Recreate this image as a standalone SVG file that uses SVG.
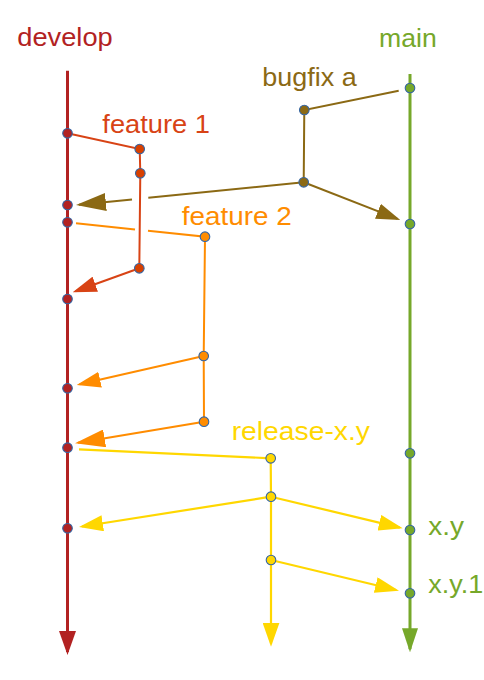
<svg xmlns="http://www.w3.org/2000/svg" width="484" height="680" viewBox="0 0 484 680">
<style>
text{font-family:"Liberation Sans",Arial,sans-serif;font-size:25.5px}
.dot{stroke:#3465a4;stroke-width:1.1}
line,polyline,path.c{fill:none}
.dev{stroke:#b22222;stroke-width:3}
.main{stroke:#76a82a;stroke-width:3}
.f1{stroke:#d84315;stroke-width:2}
.f2{stroke:#ff8c00;stroke-width:2}
.bf{stroke:#8b6914;stroke-width:2}
.rel{stroke:#ffd700;stroke-width:2.2}
</style>
<defs>
<marker id="aDev" markerUnits="userSpaceOnUse" orient="auto" markerWidth="24" markerHeight="17" refX="21" refY="8.5" viewBox="0 0 24 17"><path d="M0,0 L24,8.5 L0,17 z" fill="#b22222"/></marker>
<marker id="aMain" markerUnits="userSpaceOnUse" orient="auto" markerWidth="24" markerHeight="16" refX="21" refY="8" viewBox="0 0 24 16"><path d="M0,0 L24,8 L0,16 z" fill="#76a82a"/></marker>
<marker id="aF1" markerUnits="userSpaceOnUse" orient="auto" markerWidth="24" markerHeight="16" refX="21" refY="8" viewBox="0 0 24 16"><path d="M0,0 L24,8 L0,16 z" fill="#d84315"/></marker>
<marker id="aF2" markerUnits="userSpaceOnUse" orient="auto" markerWidth="24" markerHeight="16" refX="21" refY="8" viewBox="0 0 24 16"><path d="M0,0 L24,8 L0,16 z" fill="#ff8c00"/></marker>
<marker id="aF2b" markerUnits="userSpaceOnUse" orient="auto" markerWidth="30" markerHeight="18" refX="27" refY="9" viewBox="0 0 30 18"><path d="M0,0 L30,9 L0,18 z" fill="#ff8c00"/></marker>
<marker id="aBf" markerUnits="userSpaceOnUse" orient="auto" markerWidth="24" markerHeight="16" refX="21" refY="8" viewBox="0 0 24 16"><path d="M0,0 L24,8 L0,16 z" fill="#8b6914"/></marker>
<marker id="aBfb" markerUnits="userSpaceOnUse" orient="auto" markerWidth="30" markerHeight="18" refX="27" refY="9" viewBox="0 0 30 18"><path d="M0,0 L30,9 L0,18 z" fill="#8b6914"/></marker>
<marker id="aRel" markerUnits="userSpaceOnUse" orient="auto" markerWidth="24" markerHeight="16" refX="21" refY="8" viewBox="0 0 24 16"><path d="M0,0 L24,8 L0,16 z" fill="#ffd700"/></marker>
<marker id="aRelV" markerUnits="userSpaceOnUse" orient="auto" markerWidth="24" markerHeight="17" refX="21" refY="8.5" viewBox="0 0 24 17"><path d="M0,0 L24,8.5 L0,17 z" fill="#ffd700"/></marker>
</defs>

<g id="connectors">
<line class="dev" x1="67.5" y1="70.7" x2="67.5" y2="652" marker-end="url(#aDev)"/>
<line class="main" x1="410" y1="74" x2="410" y2="649.3" marker-end="url(#aMain)"/>
<polyline class="f1" points="67.5,133.3 139.7,149 140.3,173.3 139.3,268.3"/>
<line class="f1" x1="139.3" y1="268.3" x2="75.5" y2="291.3" marker-end="url(#aF1)"/>
<polyline class="bf" points="398.7,90.7 304.3,110 303.7,182.3"/>
<line class="bf" x1="303.7" y1="182.3" x2="148.3" y2="197.8"/>
<line class="bf" x1="132" y1="199.4" x2="79" y2="204.7" marker-end="url(#aBfb)"/>
<line class="bf" x1="303.7" y1="182.3" x2="397.5" y2="218.9" marker-end="url(#aBf)"/>
<line class="f2" x1="76" y1="223.3" x2="135" y2="229.4"/>
<polyline class="f2" points="148,230.8 205,236.7 203.7,356 204,421.7"/>
<line class="f2" x1="203.7" y1="356" x2="79.6" y2="384.3" marker-end="url(#aF2)"/>
<line class="f2" x1="204" y1="421.7" x2="78" y2="442.8" marker-end="url(#aF2b)"/>
<polyline class="rel" points="79,449.3 270.7,458.3 271,496.7 271,560"/>
<line class="rel" x1="271" y1="560" x2="271" y2="643.7" marker-end="url(#aRelV)"/>
<line class="rel" x1="271" y1="496.7" x2="82" y2="526.5" marker-end="url(#aRel)"/>
<line class="rel" x1="271" y1="496.7" x2="399.8" y2="527.6" marker-end="url(#aRel)"/>
<line class="rel" x1="271" y1="560" x2="396.1" y2="590" marker-end="url(#aRel)"/>
</g>

<g id="develop">
<text x="17.3" y="45.7" fill="#b22222" textLength="95.4" lengthAdjust="spacingAndGlyphs">develop</text>
<g class="dot" fill="#b22222">
<circle cx="67.5" cy="133.3" r="4.8"/>
<circle cx="67.5" cy="205" r="4.8"/>
<circle cx="67.5" cy="222.3" r="4.8"/>
<circle cx="67.5" cy="299" r="4.8"/>
<circle cx="67.5" cy="388.3" r="4.8"/>
<circle cx="67.5" cy="447.7" r="4.8"/>
<circle cx="67.5" cy="528.3" r="4.8"/>
</g>
</g>

<g id="main">
<text x="379" y="46.7" fill="#76a82a" textLength="57.7" lengthAdjust="spacingAndGlyphs">main</text>
<text x="428.3" y="535" fill="#76a82a" textLength="35.7" lengthAdjust="spacingAndGlyphs">x.y</text>
<text x="428.3" y="593.3" fill="#76a82a" textLength="55" lengthAdjust="spacingAndGlyphs">x.y.1</text>
<g class="dot" fill="#76a82a">
<circle cx="410" cy="88" r="4.8"/>
<circle cx="410" cy="224" r="4.8"/>
<circle cx="410" cy="453.3" r="4.8"/>
<circle cx="410" cy="530" r="4.8"/>
<circle cx="410" cy="593.3" r="4.8"/>
</g>
</g>

<g id="feature1">
<text x="102.3" y="133" fill="#d84315" textLength="107.7" lengthAdjust="spacingAndGlyphs">feature 1</text>
<g class="dot" fill="#d84000">
<circle cx="139.7" cy="149" r="4.8"/>
<circle cx="140.3" cy="173.3" r="4.8"/>
<circle cx="139.3" cy="268.3" r="4.8"/>
</g>
</g>

<g id="bugfix">
<text x="262.3" y="86.3" fill="#8b6914" textLength="94.4" lengthAdjust="spacingAndGlyphs">bugfix a</text>
<g class="dot" fill="#8b6914">
<circle cx="304.3" cy="110" r="4.8"/>
<circle cx="303.7" cy="182.3" r="4.8"/>
</g>
</g>

<g id="feature2">
<text x="181.7" y="225.3" fill="#ff8c00" textLength="110" lengthAdjust="spacingAndGlyphs">feature 2</text>
<g class="dot" fill="#ff8c00">
<circle cx="205" cy="236.7" r="4.8"/>
<circle cx="203.7" cy="356" r="4.8"/>
<circle cx="204" cy="421.7" r="4.8"/>
</g>
</g>

<g id="release">
<text x="231.7" y="440" fill="#ffd700" textLength="138.3" lengthAdjust="spacingAndGlyphs">release-x.y</text>
<g class="dot" fill="#ffd700">
<circle cx="270.7" cy="458.3" r="4.8"/>
<circle cx="271" cy="496.7" r="4.8"/>
<circle cx="271" cy="560" r="4.8"/>
</g>
</g>
</svg>
